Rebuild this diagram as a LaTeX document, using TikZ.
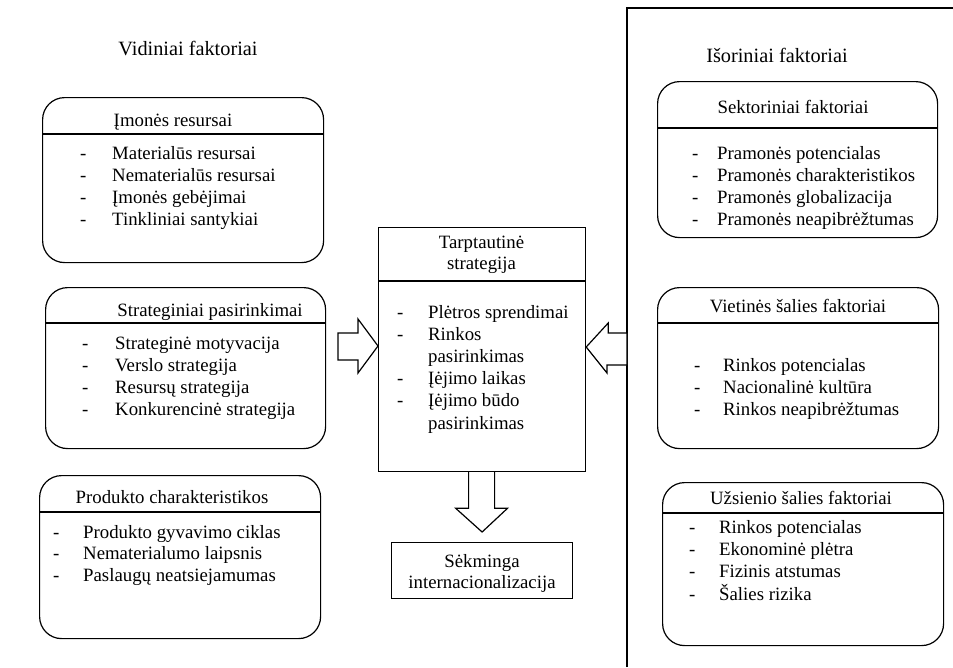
\documentclass[tikz,border=0pt]{standalone}
\usepackage{fontspec}
\setmainfont{Liberation Serif}
\usetikzlibrary{calc}
\newcommand\fsbody{\fontsize{18.8}{22.2}\selectfont}
\newcommand\fshead{\fontsize{20.3}{24}\selectfont}
\begin{document}
\begin{tikzpicture}[x=1pt,y=-1pt,
  rbox/.style={draw, line width=1.2pt, rounded corners=22pt, inner sep=0pt, anchor=north west},
  sbox/.style={draw, line width=1.2pt, inner sep=0pt, anchor=north west},
  hdr/.style={line width=2pt},
  txt/.style={inner sep=0pt, anchor=base, font=\fsbody},
  lst/.style={inner sep=0pt, anchor=base west, font=\fsbody},
  htxt/.style={inner sep=0pt, anchor=base, font=\fshead},
  barrow/.style={draw, line width=1.2pt, line join=miter, fill=white}]
\useasboundingbox (0,0) rectangle (953,667);

% separator line
\coordinate (sepb) at (627,667);
\coordinate (sept) at (627,8);
\coordinate (sepr) at (953,8);
\draw[line width=1.5pt] (sepb) -- (sept) -- (sepr);

% headings
\node[htxt] (hvid) at (188,55) {Vidiniai faktoriai};
\node[htxt] (hisor) at (777,62) {Išoriniai faktoriai};

% left box 1
\node[rbox, minimum width=281pt, minimum height=165pt] (b1) at (42,97) {};
\draw[hdr] (b1.west |- 0,134) -- (b1.east |- 0,134);
\node[txt] (b1t) at (173,126) {Įmonės resursai};
\node[lst] (b1l) at (80,159) {\begin{tabular}[t]{@{}p{32pt}@{}l@{}}
-&Materialūs resursai\\ -&Nematerialūs resursai\\ -&Įmonės gebėjimai\\ -&Tinkliniai santykiai\end{tabular}};

% left box 2
\node[rbox, minimum width=280pt, minimum height=161pt] (b2) at (45,287) {};
\draw[hdr] (b2.west |- 0,323) -- (b2.east |- 0,323);
\node[txt] (b2t) at (210,316) {Strateginiai pasirinkimai};
\node[lst] (b2l) at (82,349) {\begin{tabular}[t]{@{}p{33pt}@{}l@{}}
-&Strateginė motyvacija\\ -&Verslo strategija\\ -&Resursų strategija\\ -&Konkurencinė strategija\end{tabular}};

% left box 3
\node[rbox, minimum width=281pt, minimum height=163pt] (b3) at (39,475) {};
\draw[hdr] (b3.west |- 0,512) -- (b3.east |- 0,512);
\node[txt] (b3t) at (172,503) {Produkto charakteristikos};
\node[lst] (b3l) at (53,538) {\begin{tabular}[t]{@{}p{30pt}@{}l@{}}
-&Produkto gyvavimo ciklas\\[-1pt] -&Nematerialumo laipsnis\\ -&Paslaugų neatsiejamumas\end{tabular}};

% center box
\node[sbox, minimum width=207pt, minimum height=244pt] (cb) at (378,227) {};
\draw[hdr] (cb.west |- 0,281) -- (cb.east |- 0,281);
\node[txt] (cbt1) at (481.5,248) {Tarptautinė};
\node[txt] (cbt2) at (481.5,269) {strategija};
\node[lst] (cbl) at (397,318) {\begin{tabular}[t]{@{}p{31pt}@{}l@{}}
-&Plėtros sprendimai\\ -&Rinkos\\ &pasirinkimas\\ -&Įėjimo laikas\\ -&Įėjimo būdo\\ &pasirinkimas\end{tabular}};

% success box
\node[sbox, minimum width=181pt, minimum height=56pt] (sk) at (391,542) {};
\node[txt] (skt1) at (482,567) {Sėkminga};
\node[txt] (skt2) at (482,588) {internacionalizacija};

% right box 1
\node[rbox, minimum width=280pt, minimum height=156pt] (r1) at (657,81) {};
\draw[hdr] (r1.west |- 0,128) -- (r1.east |- 0,128);
\node[txt] (r1t) at (793,113) {Sektoriniai faktoriai};
\node[lst] (r1l) at (692,159) {\begin{tabular}[t]{@{}p{25pt}@{}l@{}}
-&Pramonės potencialas\\ -&Pramonės charakteristikos\\ -&Pramonės globalizacija\\ -&Pramonės neapibrėžtumas\end{tabular}};

% right box 2
\node[rbox, minimum width=281pt, minimum height=161pt] (r2) at (657,287) {};
\draw[hdr] (r2.west |- 0,323) -- (r2.east |- 0,323);
\node[txt] (r2t) at (798,312) {Vietinės šalies faktoriai};
\node[lst] (r2l) at (694,371) {\begin{tabular}[t]{@{}p{29pt}@{}l@{}}
-&Rinkos potencialas\\ -&Nacionalinė kultūra\\ -&Rinkos neapibrėžtumas\end{tabular}};

% right box 3
\node[rbox, minimum width=281pt, minimum height=163pt] (r3) at (662,482) {};
\draw[hdr] (r3.west |- 0,513) -- (r3.east |- 0,513);
\node[txt] (r3t) at (801,504) {Užsienio šalies faktoriai};
\node[lst] (r3l) at (689,533) {\begin{tabular}[t]{@{}p{30pt}@{}l@{}}
-&Rinkos potencialas\\ -&Ekonominė plėtra\\ -&Fizinis atstumas\\ -&Šalies rizika\end{tabular}};

% block arrows
\coordinate (lat) at (cb.west |- 0,346);
\draw[barrow] (lat) -- ++(-20,-27) -- ++(0,14) -- ++(-20,0) -- ++(0,27) -- ++(20,0) -- ++(0,13) -- cycle;
\coordinate (rat) at (cb.east |- 0,347);
\draw[barrow] (rat) -- ++(22,-24) -- ++(0,10) -- (sept |- 0,333) -- (sept |- 0,365) -- ++(-20,0) -- ++(0,8) -- cycle;
\coordinate (dat) at ($(cb.south)!0!(sk.north)$);
\draw[barrow] ($(dat)+(-13.5,0)$) -- ++(0,36) -- ++(-13,0) -- ($(sk.north)+(0,-10)$) -- ($(dat)+(25.5,36)$) -- ++(-13,0) -- ++(0,-36);
\end{tikzpicture}
\end{document}
